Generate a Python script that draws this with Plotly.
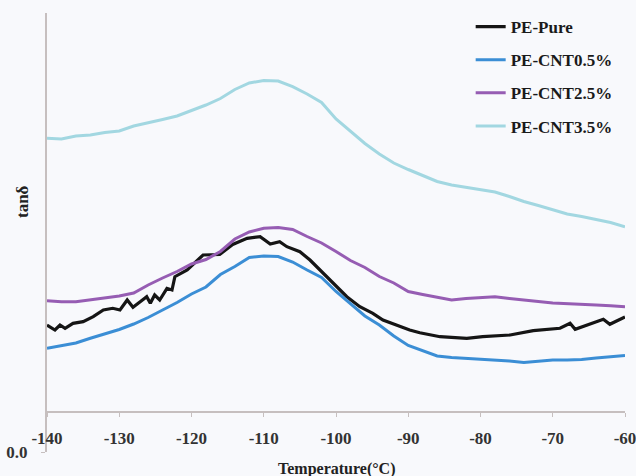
import plotly.graph_objects as go

# Temperature grid (°C) for the smoother curves
temp = [-140, -138, -136, -134, -132, -130, -128, -126, -124, -122, -120,
        -118, -116, -114, -112, -110, -108, -106, -104, -102, -100,
        -98, -96, -94, -92, -90, -88, -86, -84, -82, -80,
        -78, -76, -74, -72, -70, -68, -66, -64, -62, -60]

# PE-Pure is noisier, sampled on its own temperature points
temp_pure = [-140, -138.9, -138.2, -137.5, -136.4, -135.0, -133.6, -132.2, -130.9, -129.9,
             -128.9, -128.1, -127.1, -126.2, -125.7, -125.1, -124.4, -123.4, -122.7, -122.3,
             -120.6, -118.4, -116.1, -114.3, -112.3, -110.5, -109.1, -107.8, -106.8, -105.0,
             -103.6, -102.2, -100.4, -98.5, -96.7, -94.9, -93.5, -91.6, -89.8, -88.4,
             -85.6, -81.9, -79.7, -75.9, -72.7, -69.0, -67.6, -66.9, -64.4, -63.0,
             -62.1, -60]
tan_pure = [0.01270, 0.01220, 0.01270, 0.01237, 0.01287, 0.01303, 0.01353, 0.01420, 0.01437, 0.01420,
            0.01520, 0.01447, 0.01503, 0.01553, 0.01487, 0.01570, 0.01520, 0.01637, 0.01620, 0.01753,
            0.01820, 0.01970, 0.01975, 0.02075, 0.02137, 0.02153, 0.02080, 0.02103, 0.02053, 0.02003,
            0.01920, 0.01820, 0.01687, 0.01553, 0.01453, 0.01387, 0.01320, 0.01270, 0.01220, 0.01193,
            0.01153, 0.01137, 0.01153, 0.01170, 0.01213, 0.01237, 0.01287, 0.01227, 0.01287, 0.01327,
            0.01277, 0.01350]

tan_cnt05 = [0.01037, 0.01060, 0.01090, 0.01137, 0.01180, 0.01225, 0.01280, 0.01345, 0.01420, 0.01495,
             0.01580, 0.01650, 0.01775, 0.01855, 0.01945, 0.01960, 0.01955, 0.01900, 0.01820, 0.01745,
             0.01605, 0.01480, 0.01360, 0.01270, 0.01160, 0.01065, 0.01010, 0.00960, 0.00945, 0.00937,
             0.00930, 0.00920, 0.00910, 0.00895, 0.00905, 0.00920, 0.00920, 0.00925, 0.00940, 0.00955,
             0.00965]

tan_cnt25 = [0.01513, 0.01502, 0.01502, 0.01520, 0.01540, 0.01560, 0.01590, 0.01670, 0.01740, 0.01805,
             0.01880, 0.01925, 0.02005, 0.02130, 0.02200, 0.02238, 0.02245, 0.02225, 0.02155, 0.02090,
             0.02005, 0.01915, 0.01845, 0.01755, 0.01690, 0.01605, 0.01575, 0.01545, 0.01520, 0.01535,
             0.01545, 0.01553, 0.01535, 0.01517, 0.01505, 0.01490, 0.01485, 0.01480, 0.01470, 0.01462,
             0.01453]

tan_cnt35 = [0.03137, 0.03130, 0.03160, 0.03170, 0.03195, 0.03210, 0.03260, 0.03290, 0.03325, 0.03360,
             0.03415, 0.03470, 0.03535, 0.03625, 0.03690, 0.03715, 0.03710, 0.03653, 0.03580, 0.03495,
             0.03330, 0.03205, 0.03085, 0.02980, 0.02890, 0.02825, 0.02765, 0.02705, 0.02670, 0.02647,
             0.02625, 0.02600, 0.02555, 0.02505, 0.02465, 0.02420, 0.02380, 0.02355, 0.02325, 0.02295,
             0.02253]

series = [
    ("PE-Pure", temp_pure, tan_pure, "#151515", 3.2),
    ("PE-CNT0.5%", temp, tan_cnt05, "#3b8ed5", 3.0),
    ("PE-CNT2.5%", temp, tan_cnt25, "#965db3", 3.0),
    ("PE-CNT3.5%", temp, tan_cnt35, "#a2d7e1", 3.0),
]

x_ticks = [-140, -130, -120, -110, -100, -90, -80, -70, -60]
y_range = [0, 0.0439]
x_axis_cross = 0.00405

serif = "Liberation Serif, Times New Roman, serif"
bg = "#f8f9fc"

fig = go.Figure()
for i, (name, xs, ys, color, width) in enumerate(series):
    fig.add_trace(go.Scatter(
        x=xs, y=ys, mode="lines", name=name, legendgroup=f"g{i}",
        line=dict(color=color, width=width),
    ))

fig.update_layout(
    width=636, height=476,
    margin=dict(l=47, r=11, t=13, b=24, autoexpand=False),
    paper_bgcolor=bg, plot_bgcolor=bg,
    font=dict(family=serif, color="#222222"),
    showlegend=True,
    legend=dict(
        x=0.733, y=1.009, xanchor="left", yanchor="top",
        bgcolor="rgba(0,0,0,0)", tracegroupgap=8,
        font=dict(family=serif, size=17, color="#1a1a1a", weight="bold"),
        itemwidth=30,
    ),
    xaxis=dict(
        range=[-140, -60], tickvals=x_ticks, ticktext=[str(v) for v in x_ticks],
        anchor="free", position=(x_axis_cross - y_range[0]) / (y_range[1] - y_range[0]),
        showline=True, linecolor="#c6bfbf", linewidth=2,
        ticks="outside", ticklen=4, tickcolor="#c6bfbf", tickwidth=1,
        showgrid=False, zeroline=False,
        tickfont=dict(family=serif, size=17, color="#333333", weight="bold"),
        ticklabelstandoff=7, ticklabeloverflow="allow",
    ),
    yaxis=dict(
        range=y_range, tickvals=[0], ticktext=["0.0"],
        showline=True, linecolor="#c6bfbf", linewidth=2,
        ticks="outside", ticklen=4, tickcolor="#c6bfbf", tickwidth=1,
        showgrid=False, zeroline=False,
        tickfont=dict(family=serif, size=17, color="#333333", weight="bold"),
        ticklabelstandoff=10, ticklabeloverflow="allow",
    ),
    annotations=[
        dict(text="Temperature(°C)", xref="paper", yref="paper",
             x=(336 - 47) / 578, y=(476 - 24 - 469) / 439,
             xanchor="center", yanchor="middle", showarrow=False,
             font=dict(family=serif, size=16, color="#222222", weight="bold")),
        dict(text="tanδ", xref="paper", yref="paper",
             x=(22 - 47) / 578, y=(452 - 202) / 439,
             xanchor="center", yanchor="middle", showarrow=False, textangle=-90,
             font=dict(family=serif, size=17, color="#222222", weight="bold")),
    ],
)

fig.write_html("out.html")
